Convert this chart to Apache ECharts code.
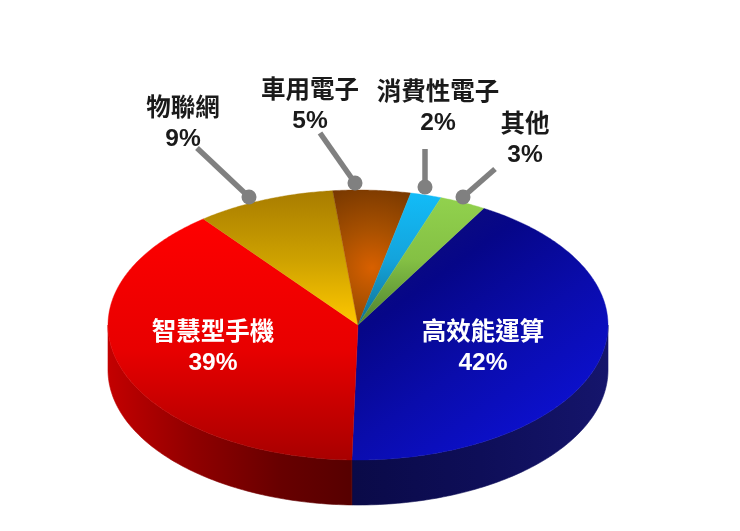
<!DOCTYPE html>
<html><head><meta charset="utf-8">
<style>html,body{margin:0;padding:0;background:#fff}#c{width:740px;height:531px}</style>
<script src="https://cdn.jsdelivr.net/npm/echarts@6/dist/echarts.min.js"></script>
</head><body><div id="c"></div>
<script>
const categories = ['高效能運算','智慧型手機','物聯網','車用電子','消費性電子','其他'];
const shares = [42,39,9,5,2,3];

const pie = {cx:358, cy:325, rx:250, ry:135, depth:45, start:30.2};
const FONT = '"Liberation Sans","Noto Sans CJK TC",sans-serif';
const toStops = s=>s.map(c=>({offset:c[0],color:c[1]}));
const grad = (x,y,x2,y2,stops)=>new echarts.graphic.LinearGradient(x,y,x2,y2,toStops(stops),true);
const radial = (x,y,r,stops)=>new echarts.graphic.RadialGradient(x,y,r,toStops(stops),true);
const topFill = [
  grad(390,215,540,425,[[0,'#101078'],[0.3,'#060688'],[0.65,'#0a0cac'],[1,'#0c10cc']]),
  grad(0,215,0,460,[[0,'#ff0000'],[0.55,'#e80000'],[1,'#a80000']]),
  grad(0,190,0,325,[[0,'#a87c00'],[0.5,'#cca000'],[1,'#ffc800']]),
  radial(372,268,85,[[0,'#d86000'],[0.45,'#a85000'],[1,'#783800']]),
  grad(0,192,0,325,[[0,'#12bcf8'],[0.5,'#14a4dc'],[1,'#107090']]),
  grad(0,195,0,325,[[0,'#92d24e'],[0.5,'#84c044'],[1,'#4c8030']])
];
const sideFill = [
  grad(353,0,608,0,[[0,'#0a0a48'],[0.5,'#0e0e58'],[1,'#15156c']]),
  grad(107,0,353,0,[[0,'#c40000'],[0.35,'#900000'],[0.7,'#680000'],[1,'#560000']])
];
// label box centres and leader ends
const callouts = [
  {text:[483,348], color:'#fff'},
  {text:[213,348], color:'#fff'},
  {text:[183,124], color:'#1a1a1a', from:[197,148], to:[249,197]},
  {text:[310,106.5], color:'#1a1a1a', from:[320,133], to:[355,183]},
  {text:[438,108.5], color:'#1a1a1a', from:[425,149], to:[425,187]},
  {text:[525,140], color:'#1a1a1a', from:[495,169], to:[463,197]}
];

const total = shares.reduce((a,b)=>a+b,0);
const pt = (deg,dy=0)=>{const r=deg*Math.PI/180;
  return [pie.cx+pie.rx*Math.sin(r), pie.cy-pie.ry*Math.cos(r)+dy];};
const range = i=>{let a=pie.start;for(let k=0;k<i;k++)a+=shares[k]/total*360;
  return [a,a+shares[i]/total*360];};
const data = shares.map((v,i)=>[i,v]);

const sideItem = (p,api)=>{
  const i=api.value(0), [a,b]=range(i);
  const lo=Math.max(a,90), hi=Math.min(b,270);
  if(hi<=lo) return {type:'group',children:[]};
  const upper=[],lower=[];
  for(let t=lo;t<hi;t+=1){upper.push(pt(t));lower.push(pt(t,pie.depth));}
  upper.push(pt(hi));lower.push(pt(hi,pie.depth));
  return {type:'polygon',shape:{points:upper.concat(lower.reverse())},
    style:{fill:sideFill[i],stroke:sideFill[i],lineWidth:0.6}};
};
const topItem = (p,api)=>{
  const i=api.value(0), [a,b]=range(i);
  const pts=[[pie.cx,pie.cy]];
  for(let t=a;t<b;t+=0.5) pts.push(pt(t));
  pts.push(pt(b));
  return {type:'polygon',shape:{points:pts},style:{fill:topFill[i],stroke:topFill[i],lineWidth:0.4}};
};
const labelItem = (p,api)=>{
  const i=api.value(0), c=callouts[i], kids=[];
  if(c.from){
    kids.push({type:'line',shape:{x1:c.from[0],y1:c.from[1],x2:c.to[0],y2:c.to[1]},
      style:{stroke:'#808080',lineWidth:5.5}});
    kids.push({type:'circle',shape:{cx:c.to[0],cy:c.to[1],r:7.5},style:{fill:'#808080'}});
  }
  kids.push({type:'text',x:c.text[0],y:c.text[1],style:{
    text:categories[i]+'\n'+api.value(1)+'%',
    font:'bold 24.5px '+FONT,lineHeight:30,fill:c.color,align:'center',verticalAlign:'middle'}});
  return {type:'group',children:kids};
};
const chart = echarts.init(document.getElementById('c'),null,{renderer:'canvas'});
chart.setOption({
  animation:false,backgroundColor:'#fff',
  series:[
    {type:'custom',coordinateSystem:'none',renderItem:sideItem,data,z:1,silent:true},
    {type:'custom',coordinateSystem:'none',renderItem:topItem,data,z:2,silent:true},
    {type:'custom',coordinateSystem:'none',renderItem:labelItem,data,z:3,silent:true}
  ]
});
</script></body></html>
